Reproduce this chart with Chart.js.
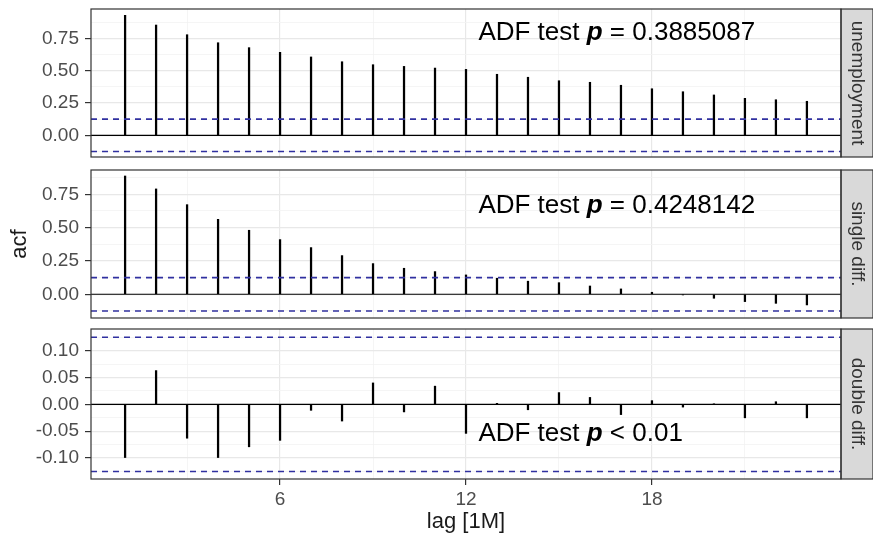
<!DOCTYPE html>
<html>
<head>
<meta charset="utf-8">
<script src="https://cdn.jsdelivr.net/npm/chart.js@4.4.0/dist/chart.umd.min.js"></script>
<style>
  body { margin: 0; background: #fff; }
  #wrap { position: relative; width: 873px; height: 540px; }
  canvas { position: absolute; left: 0; }
</style>
</head>
<body>
<div id="wrap">
  <canvas id="panel-unemployment" width="873" height="160" style="top:0px"></canvas>
  <canvas id="panel-single" width="873" height="160" style="top:160px"></canvas>
  <canvas id="panel-double" width="873" height="220" style="top:320px"></canvas>
</div>
<script>
// ACF values, lags 1..23
const lags = [1, 2, 3, 4, 5, 6, 7, 8, 9, 10, 11, 12, 13, 14, 15, 16, 17, 18, 19, 20, 21, 22, 23];
const acfUnemployment = [0.928, 0.853, 0.778, 0.716, 0.678, 0.642, 0.606, 0.569, 0.546, 0.533, 0.520, 0.510,
    0.472, 0.449, 0.422, 0.410, 0.387, 0.360, 0.337, 0.312, 0.286, 0.275, 0.263];
const acfSingleDiff = [0.887, 0.790, 0.672, 0.562, 0.480, 0.410, 0.350, 0.290, 0.230, 0.195, 0.170, 0.145,
    0.120, 0.098, 0.087, 0.062, 0.040, 0.015, -0.005, -0.030, -0.055, -0.068, -0.080];
const acfDoubleDiff = [-0.099, 0.063, -0.063, -0.099, -0.079, -0.067, -0.011, -0.031, 0.040, -0.014, 0.034, -0.054,
    0.002, -0.010, 0.022, 0.013, -0.019, 0.007, -0.005, 0.001, -0.025, 0.005, -0.025];
const ciBound = 0.125;

const stripLabels = ['unemployment', 'single diff.', 'double diff.'];
const adfTexts = ['= 0.3885087', '= 0.4248142', '< 0.01'];
const adfTextY = [0.79, 0.66, -0.054];
const adfTextX = 12.4;

const xMajorTicks = [6, 12, 18];
const xMinorTicks = [3, 9, 15, 21];
const yTicksLevel = [0, 0.25, 0.5, 0.75];
const yTicksDiff2 = [-0.1, -0.05, 0, 0.05, 0.1];

const yRanges = [[-0.168, 0.977], [-0.178, 0.932], [-0.139, 0.1405]];

const FONT = "'Liberation Sans', Arial, Helvetica, sans-serif";
const span = lags[lags.length - 1] - lags[0];
const xMin = lags[0] - 0.05 * span;
const xMax = lags[lags.length - 1] + 0.05 * span;

const near = (a, b) => Math.abs(a - b) < 1e-6;
const isIn = (arr, v) => arr.some(t => near(t, v));

function withMinors(majors, min, max) {
    const step = majors[1] - majors[0];
    const all = [];
    for (let v = majors[0] - step; v <= majors[majors.length - 1] + step + 1e-9; v += step / 2) {
        const r = Math.round(v * 1000) / 1000;
        if (r >= min && r <= max) all.push(r);
    }
    return all;
}

// panel border + facet strip on the right
const panelDecor = {
    id: 'panelDecor',
    afterDraw(chart, args, opts) {
        const { ctx, chartArea: a } = chart;
        ctx.save();
        ctx.fillStyle = '#D9D9D9';
        ctx.fillRect(a.right, a.top, chart.width - a.right, a.bottom - a.top);
        ctx.strokeStyle = '#333333';
        ctx.lineWidth = 1.2;
        ctx.strokeRect(a.right, a.top, chart.width - a.right, a.bottom - a.top);
        ctx.strokeRect(a.left, a.top, a.right - a.left, a.bottom - a.top);

        ctx.translate((a.right + chart.width) / 2, (a.top + a.bottom) / 2);
        ctx.rotate(Math.PI / 2);
        ctx.fillStyle = '#333333';
        ctx.font = '19px ' + FONT;
        ctx.textAlign = 'center';
        ctx.textBaseline = 'middle';
        ctx.fillText(opts.strip, 0, 0);
        ctx.restore();
    }
};

// "ADF test p = ..." annotation
const adfNote = {
    id: 'adfNote',
    afterDatasetsDraw(chart, args, opts) {
        const { ctx } = chart;
        let x = chart.scales.x.getPixelForValue(adfTextX);
        const y = chart.scales.y.getPixelForValue(opts.y);
        ctx.save();
        ctx.fillStyle = '#000';
        ctx.textBaseline = 'middle';
        ctx.textAlign = 'left';
        const parts = [['ADF test ', ''], ['p', 'italic bold '], [' ' + opts.text, '']];
        parts.forEach(([txt, style]) => {
            ctx.font = style + '26px ' + FONT;
            ctx.fillText(txt, x, y);
            x += ctx.measureText(txt).width;
        });
        ctx.restore();
    }
};

function makePanel(canvasId, values, idx, yMajors, opts) {
    const [yMin, yMax] = yRanges[idx];
    const yAll = withMinors(yMajors, yMin, yMax);
    const points = lags.map((l, i) => ({ x: l, y: values[i] }));
    const hline = v => [{ x: xMin, y: v }, { x: xMax, y: v }];

    const ctx = document.getElementById(canvasId).getContext('2d');
    new Chart(ctx, {
        type: 'bar',
        data: {
            datasets: [
                {
                    type: 'line',
                    data: hline(0),
                    borderColor: '#000',
                    borderWidth: 1.2,
                    pointRadius: 0,
                    order: 1
                },
                {
                    type: 'line',
                    data: hline(ciBound),
                    borderColor: '#3030A0',
                    borderWidth: 1.6,
                    borderDash: [6, 5],
                    pointRadius: 0,
                    order: 0
                },
                {
                    type: 'line',
                    data: hline(-ciBound),
                    borderColor: '#3030A0',
                    borderWidth: 1.6,
                    borderDash: [6, 5],
                    pointRadius: 0,
                    order: 0
                },
                {
                    data: points,
                    backgroundColor: '#000',
                    borderWidth: 0,
                    barThickness: 1.6,
                    order: 2
                }
            ]
        },
        options: {
            responsive: false,
            animation: false,
            layout: { padding: opts.padding },
            plugins: {
                legend: { display: false },
                tooltip: { enabled: false },
                panelDecor: { strip: stripLabels[idx] },
                adfNote: { text: adfTexts[idx], y: adfTextY[idx] }
            },
            scales: {
                x: {
                    type: 'linear',
                    min: xMin,
                    max: xMax,
                    offset: false,
                    border: { display: false },
                    afterBuildTicks: s => { s.ticks = xMajorTicks.concat(xMinorTicks).sort((a, b) => a - b).map(v => ({ value: v })); },
                    afterFit: s => {
                        s.height = opts.xHeight;
                        s.paddingLeft = 0;
                        s.paddingRight = 0;
                    },
                    grid: {
                        offset: false,
                        drawTicks: opts.showX,
                        tickLength: 6,
                        color: c => isIn(xMajorTicks, c.tick.value) ? '#E8E8E8' : '#F3F3F3',
                        lineWidth: c => isIn(xMajorTicks, c.tick.value) ? 1.2 : 0.8,
                        tickColor: c => isIn(xMajorTicks, c.tick.value) ? '#333333' : 'rgba(0,0,0,0)',
                        tickWidth: 1.2
                    },
                    ticks: {
                        display: opts.showX,
                        autoSkip: false,
                        maxRotation: 0,
                        padding: 3,
                        color: '#4D4D4D',
                        font: { family: FONT, size: 19 },
                        callback: v => isIn(xMajorTicks, v) ? String(v) : ''
                    },
                    title: {
                        display: opts.showX,
                        text: 'lag [1M]',
                        color: '#1A1A1A',
                        font: { family: FONT, size: 22 },
                        padding: { top: 0, bottom: 5 }
                    }
                },
                y: {
                    type: 'linear',
                    min: yMin,
                    max: yMax,
                    border: { display: false },
                    afterBuildTicks: s => { s.ticks = yAll.map(v => ({ value: v })); },
                    afterFit: s => {
                        s.width = 91;
                        s.paddingTop = 0;
                        s.paddingBottom = 0;
                    },
                    grid: {
                        tickLength: 6,
                        color: c => isIn(yMajors, c.tick.value) ? '#E8E8E8' : '#F3F3F3',
                        lineWidth: c => isIn(yMajors, c.tick.value) ? 1.2 : 0.8,
                        tickColor: c => isIn(yMajors, c.tick.value) ? '#333333' : 'rgba(0,0,0,0)',
                        tickWidth: 1.2
                    },
                    ticks: {
                        autoSkip: false,
                        padding: 6,
                        color: '#4D4D4D',
                        font: { family: FONT, size: 19 },
                        callback: v => isIn(yMajors, v) ? v.toFixed(2) : ''
                    },
                    title: {
                        display: opts.showYTitle,
                        text: 'acf',
                        color: '#1A1A1A',
                        font: { family: FONT, size: 22 },
                        padding: { top: 7, bottom: 0 }
                    }
                }
            }
        },
        plugins: [panelDecor, adfNote]
    });
}

document.addEventListener('DOMContentLoaded', () => {
    makePanel('panel-unemployment', acfUnemployment, 0, yTicksLevel,
        { padding: { top: 9, bottom: 3, left: 0, right: 32 }, xHeight: 0, showX: false, showYTitle: false });
    makePanel('panel-single', acfSingleDiff, 1, yTicksLevel,
        { padding: { top: 10, bottom: 2, left: 0, right: 32 }, xHeight: 0, showX: false, showYTitle: true });
    makePanel('panel-double', acfDoubleDiff, 2, yTicksDiff2,
        { padding: { top: 9, bottom: 0, left: 0, right: 32 }, xHeight: 61, showX: true, showYTitle: false });
});
</script>
</body>
</html>
